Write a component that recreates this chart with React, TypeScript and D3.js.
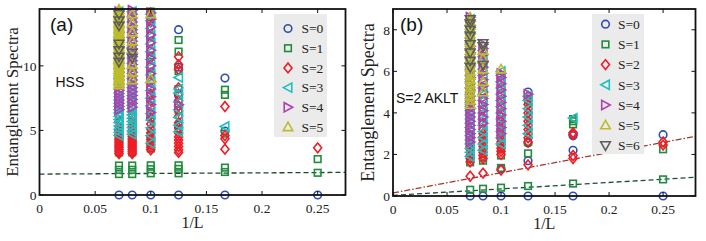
import React from 'react';
import * as d3 from 'd3';

// system sizes L; the x value of a column is 1/L
const sizes = [4, 6, 8, 10, 12, 14];

// ---- panel (a): HSS, levels per spin sector, keyed by L ----
const hssS0: Record<number, number[]> = {
  4: [0], 6: [0, 4.95, 9.05], 8: [0, 5.4, 7.7, 9.9, 12.8], 10: [0, 6.0, 9.5, 13.6], 12: [0], 14: [0],
};
const hssS1: Record<number, number[]> = {
  4: [1.72, 2.78],
  6: [1.78, 2.12, 4.75, 7.75, 8.15],
  8: [1.68, 2.02, 2.3, 5.1, 6.6, 8.2, 9.6, 11.1, 12.0],
  10: [1.68, 2.0, 2.3, 3.6, 4.6, 6.2, 7.7, 9.3, 10.8, 12.4, 13.8, 14.2],
  12: [1.62, 1.95, 2.28, 3.3, 4.1, 5.2, 6.0, 7.4],
  14: [1.62, 1.95, 2.28, 3.3, 4.0, 5.0, 6.1],
};
const hssS2: Record<number, number[]> = {
  4: [3.65],
  6: [3.55, 4.35, 4.6, 6.85],
  8: [3.3, 3.5, 3.75, 4.0, 4.25, 4.5, 4.8, 5.2, 5.6, 6.1, 6.5, 6.9, 7.3, 7.8, 8.3, 9.7, 10.1, 10.7],
  10: [3.5, 3.7, 3.9, 4.1, 4.3, 4.5, 4.8, 5.1, 5.5, 5.9, 6.3, 6.8, 7.3, 7.8, 8.3, 8.8, 9.4, 10.0, 10.6, 11.2, 11.8, 12.4, 13.0, 13.4, 13.8, 14.1],
  12: [3.2, 3.35, 3.5, 3.65, 3.8, 3.95, 4.1, 4.25, 4.4, 4.55, 4.7, 4.85, 5.0, 5.3, 5.7, 6.2, 6.8],
  14: [3.2, 3.35, 3.5, 3.65, 3.8, 3.95, 4.1, 4.25, 4.4, 4.55, 4.7, 4.85, 5.0, 5.3, 5.7, 6.2],
};
const hssS3: Record<number, number[]> = {
  6: [5.3],
  8: [4.9, 5.4, 6.0, 6.6, 7.2, 7.9, 8.2, 9.1],
  10: [4.0, 4.6, 5.2, 5.8, 6.3, 6.9, 7.5, 8.1, 8.7, 9.3, 9.9, 10.5, 11.1, 11.7, 12.3, 12.9, 13.5, 14.0],
  12: [4.7, 4.95, 5.2, 5.45, 5.7, 5.95, 6.2, 6.45, 6.7, 6.95, 7.2, 7.45, 7.7, 8.0, 8.3, 8.6, 9.0, 9.4, 9.8, 10.2, 10.6, 11.0, 11.4, 11.8, 12.2, 12.6, 13.0, 13.4, 13.8, 14.2],
  14: [4.6, 4.85, 5.1, 5.35, 5.6, 5.85, 6.1, 6.35, 6.6, 6.85, 7.1, 7.35, 7.6, 7.9, 8.2, 8.6, 9.0, 9.4, 9.8, 10.2, 10.6, 11.0, 11.4, 11.8, 12.2, 12.6, 13.0, 13.4, 13.8, 14.2],
};
const hssS4: Record<number, number[]> = {
  8: [7.0],
  10: [6.4, 7.0, 7.6, 8.2, 8.8, 9.4, 10.0, 10.6, 11.2, 11.8, 12.4, 13.0, 13.6, 14.1],
  12: [6.8, 7.1, 7.4, 7.7, 8.0, 8.3, 8.6, 8.9, 9.2, 9.5, 9.8, 10.1, 10.4, 10.7, 11.0, 11.3, 11.6, 11.9, 12.2, 12.5, 12.8, 13.1, 13.4, 13.7, 14.0, 14.3],
  14: [6.6, 6.85, 7.1, 7.35, 7.6, 7.85, 8.1, 8.35, 8.6, 8.9, 9.2, 9.5, 9.8, 10.2, 10.6, 11.0, 11.4, 11.8, 12.2, 12.6, 13.0, 13.4, 13.8, 14.2],
};
const hssS5: Record<number, number[]> = {
  10: [9.0, 14.0],
  12: [8.9, 9.5, 10.1, 11.3, 11.9, 12.6, 13.3, 14.0],
  14: [8.5, 8.65, 8.8, 8.95, 9.1, 9.25, 9.4, 9.55, 9.7, 9.85, 10.0, 10.15, 10.3, 10.45, 10.6, 10.75, 10.9, 11.05, 11.2, 11.35, 11.5, 11.65, 11.8, 11.95, 12.1, 12.25, 12.4, 12.55, 12.7, 12.85, 13.0, 13.15, 13.3, 13.45, 13.6, 13.75, 13.9, 14.05, 14.2, 14.35],
};
const hssS6: Record<number, number[]> = {
  12: [10.6, 11.0],
  14: [10.3, 10.7, 11.2, 11.7, 13.1, 13.5, 14.0],
};

// ---- panel (b): S=2 AKLT ----
const akltS0: Record<number, number[]> = {
  4: [0, 2.95], 6: [0, 2.2, 2.9, 2.98], 8: [0, 1.7, 2.55, 5.0], 10: [0, 1.3], 12: [0], 14: [0, 8.45],
};
const akltS1: Record<number, number[]> = {
  4: [0.8, 2.25], 6: [0.6, 3.45, 3.6, 3.7], 8: [0.48, 2.05, 2.6, 4.6], 10: [0.4, 1.35, 1.95, 2.3], 12: [0.35, 1.7, 1.85], 14: [0.3, 1.62, 1.8],
};
const akltS2: Record<number, number[]> = {
  4: [2.45, 2.6],
  6: [1.8, 1.95, 2.95, 3.05],
  8: [1.5, 2.6, 2.8, 3.0, 3.2, 3.4, 3.6, 3.8, 4.0, 4.2, 4.4, 4.6, 4.8],
  10: [1.25, 2.0, 2.15, 2.3, 2.45, 2.6, 2.75, 2.9, 3.05, 3.2, 3.4, 3.6, 3.8, 4.0, 4.3, 4.6, 4.9, 5.2, 5.5, 5.8],
  12: [1.1, 1.8, 1.95, 2.1, 2.25, 2.4, 2.55, 2.7, 2.85, 3.0, 3.2, 3.5, 3.8, 4.2, 4.6, 5.0, 5.5, 6.0, 6.5, 7.0],
  14: [0.95, 1.65, 1.8, 1.95, 2.1, 2.25, 2.4, 2.55, 2.7, 2.9, 3.2, 3.6, 4.0, 4.5, 5.0],
};
const akltS3: Record<number, number[]> = {
  6: [3.75],
  8: [3.0, 3.4, 3.8, 4.2, 4.6, 4.8],
  10: [2.5, 2.8, 3.1, 3.4, 3.7, 4.0, 4.3, 4.6, 4.9, 5.2, 5.5, 5.8, 6.0],
  12: [2.2, 2.5, 2.8, 3.1, 3.4, 3.7, 4.0, 4.3, 4.6, 4.9, 5.2, 5.5, 5.8, 6.1, 6.4, 6.7, 7.0],
  14: [1.9, 2.1, 2.3, 2.5, 2.7, 2.9, 3.1, 3.3, 3.5, 3.7, 3.9, 4.1, 4.3, 4.5, 4.7, 4.9, 5.2, 5.5, 5.8, 6.1, 6.4, 6.7, 7.0, 7.3, 7.6, 7.9, 8.2, 8.5],
};
const akltS4: Record<number, number[]> = {
  8: [4.9],
  10: [3.0, 3.3, 3.6, 3.9, 4.2, 4.5, 4.8, 5.1, 5.4, 5.7, 5.9],
  12: [3.5, 3.8, 4.1, 4.4, 4.7, 5.0, 5.3, 5.6, 5.9, 6.2, 6.5, 6.8, 7.1, 7.3],
  14: [2.6, 2.8, 3.0, 3.2, 3.4, 3.6, 3.8, 4.0, 4.2, 4.4, 4.6, 4.8, 5.1, 5.4, 5.7, 6.0, 6.3, 6.6, 6.9, 7.2, 7.5, 7.8, 8.1, 8.4, 8.6],
};
const akltS5: Record<number, number[]> = {
  10: [6.1],
  12: [5.0, 5.5, 6.1, 6.6, 7.0],
  14: [4.4, 4.6, 4.8, 5.0, 5.2, 5.4, 5.6, 5.8, 6.0, 6.2, 6.4, 6.6, 6.8, 7.0, 7.2, 7.4, 7.6, 7.8, 8.0, 8.2, 8.4, 8.6],
};
const akltS6: Record<number, number[]> = {
  12: [6.3, 7.2, 7.35],
  14: [6.2, 6.5, 6.9, 7.3, 7.7, 8.0, 8.3, 8.5],
};

// guide lines (endpoints, in data units)
const hssLineX = [0, 0.275];
const hssLineY = [1.62, 1.75];
const akltRedX = [0, 0.28];
const akltRedY = [0.15, 2.87];
const akltGreenX = [0, 0.28];
const akltGreenY = [0.03, 0.9];

const xTicks = [0, 0.05, 0.1, 0.15, 0.2, 0.25];
const hssYTicks = [0, 5, 10];
const akltYTicks = [0, 2, 4, 6, 8];
const legendLabels = ['S=0', 'S=1', 'S=2', 'S=3', 'S=4', 'S=5', 'S=6'];

const colors = ['#2e4fb2', '#1f8c3e', '#ee1d26', '#1fbfc2', '#b040b0', '#bcbc2c', '#5c5c5c'];
const shapes = ['circle', 'square', 'diamond', 'left', 'right', 'up', 'down'];

const serif = '"Liberation Serif", "Times New Roman", serif';
const sans = '"Liberation Sans", Arial, sans-serif';

function Marker({ shape, x, y, color }: { shape: string; x: number; y: number; color: string }) {
  const common = { fill: 'none', stroke: color, strokeWidth: 1.6 };
  let d = '';
  if (shape === 'circle') return <circle cx={x} cy={y} r={3.8} {...common} />;
  if (shape === 'square') return <rect x={x - 3.3} y={y - 3.3} width={6.6} height={6.6} {...common} />;
  if (shape === 'diamond') d = 'M0,-4.9L4,0L0,4.9L-4,0Z';
  if (shape === 'left') d = 'M-4.7,0L3.8,-4.6L3.8,4.6Z';
  if (shape === 'right') d = 'M4.7,0L-3.8,-4.6L-3.8,4.6Z';
  if (shape === 'up') d = 'M0,-4.9L4.8,3.6L-4.8,3.6Z';
  if (shape === 'down') d = 'M0,4.9L4.8,-3.6L-4.8,-3.6Z';
  return <path d={d} transform={`translate(${x},${y})`} {...common} />;
}

type PanelProps = {
  sectors: Record<number, number[]>[];
  left: number; right: number; top: number; bottom: number;
  xMax: number; yMax: number; yTicks: number[];
  legendCount: number;
  legend: { x: number; y: number; w: number; h: number; row0: number; step: number; mx: number; tx: number };
  tag: string; tagX: number;
  note: string; noteX: number; noteY: number;
  yLabelX: number; yLabelSize: number;
  lines: { xs: number[]; ys: number[]; color: string; dash: string }[];
};

function Panel(p: PanelProps) {
  const x = d3.scaleLinear().domain([0, p.xMax]).range([p.left, p.right]);
  const y = d3.scaleLinear().domain([0, p.yMax]).range([p.bottom, p.top]);
  const line = d3.line<[number, number]>().x(d => x(d[0])).y(d => y(d[1]));
  const tl = 4;
  return (
    <g>
      {p.lines.map((l, i) => (
        <path key={i} d={line(l.xs.map((v, j) => [v, l.ys[j]]) as [number, number][]) || ''}
          fill="none" stroke={l.color} strokeWidth={1.3} strokeDasharray={l.dash} />
      ))}
      {p.sectors.map((sec, s) =>
        sizes.filter(L => sec[L]).map(L =>
          sec[L].map((v, k) => (
            <Marker key={`${s}-${L}-${k}`} shape={shapes[s]} x={x(1 / L)} y={y(v)} color={colors[s]} />
          ))
        )
      )}
      {/* legend */}
      <rect x={p.legend.x} y={p.legend.y} width={p.legend.w} height={p.legend.h} fill="#ebebeb" />
      {legendLabels.slice(0, p.legendCount).map((lab, i) => (
        <g key={lab}>
          <Marker shape={shapes[i]} x={p.legend.mx} y={p.legend.row0 + i * p.legend.step} color={colors[i]} />
          <text x={p.legend.tx} y={p.legend.row0 + i * p.legend.step + 4.8} fontFamily={serif} fontSize={13.5} fill="#222">{lab}</text>
        </g>
      ))}
      {/* frame */}
      <rect x={p.left} y={p.top} width={p.right - p.left} height={p.bottom - p.top} fill="none" stroke="#111" strokeWidth={1.8} />
      {xTicks.map(t => (
        <g key={t}>
          <line x1={x(t)} x2={x(t)} y1={p.bottom} y2={p.bottom - tl} stroke="#111" strokeWidth={1} />
          <line x1={x(t)} x2={x(t)} y1={p.top} y2={p.top + tl} stroke="#111" strokeWidth={1} />
          <text x={x(t)} y={p.bottom + 18} textAnchor="middle" fontFamily={serif} fontSize={13.5} fill="#222">{String(t)}</text>
        </g>
      ))}
      {p.yTicks.map(t => (
        <g key={t}>
          <line x1={p.left} x2={p.left + tl} y1={y(t)} y2={y(t)} stroke="#111" strokeWidth={1} />
          <line x1={p.right} x2={p.right - tl} y1={y(t)} y2={y(t)} stroke="#111" strokeWidth={1} />
          <text x={p.left - 3} y={y(t) + 4.8} textAnchor="end" fontFamily={serif} fontSize={13.5} fill="#222">{String(t)}</text>
        </g>
      ))}
      <text x={(p.left + p.right) / 2} y={p.bottom + 33} textAnchor="middle" fontFamily={serif} fontSize={16} fill="#222">1/L</text>
      <text transform={`translate(${p.yLabelX},${(p.top + p.bottom) / 2}) rotate(-90)`} textAnchor="middle"
        fontFamily={serif} fontSize={p.yLabelSize} fill="#222">Entanglement Spectra</text>
      <text x={p.tagX} y={31} fontFamily={sans} fontSize={19} fill="#111">{p.tag}</text>
      <text x={p.noteX} y={p.noteY} fontFamily={sans} fontSize={14} fill="#111">{p.note}</text>
    </g>
  );
}

export default function App() {
  return (
    <svg width={706} height={241} style={{ position: 'absolute', left: 0, top: 0, background: '#fff' }}>
      <Panel
        sectors={[hssS0, hssS1, hssS2, hssS3, hssS4, hssS5, hssS6]}
        left={39.5} right={345.5} top={9} bottom={195}
        xMax={0.275} yMax={14.4} yTicks={hssYTicks}
        legendCount={6}
        legend={{ x: 274, y: 14, w: 53, h: 123, row0: 28.5, step: 19.7, mx: 288, tx: 301.5 }}
        tag="(a)" tagX={50}
        note="HSS" noteX={55.5} noteY={87}
        yLabelX={18} yLabelSize={17}
        lines={[{ xs: hssLineX, ys: hssLineY, color: '#1c4a2c', dash: '5,3' }]}
      />
      <Panel
        sectors={[akltS0, akltS1, akltS2, akltS3, akltS4, akltS5, akltS6]}
        left={393} right={695.5} top={9} bottom={196}
        xMax={0.28} yMax={9} yTicks={akltYTicks}
        legendCount={7}
        legend={{ x: 592, y: 14, w: 52, h: 140, row0: 24.2, step: 20.2, mx: 605.5, tx: 618 }}
        tag="(b)" tagX={400}
        note="S=2 AKLT" noteX={396} noteY={102.5}
        yLabelX={374} yLabelSize={18}
        lines={[
          { xs: akltRedX, ys: akltRedY, color: '#a8362a', dash: '6,2,1.5,2' },
          { xs: akltGreenX, ys: akltGreenY, color: '#1c5030', dash: '5,3' },
        ]}
      />
    </svg>
  );
}
